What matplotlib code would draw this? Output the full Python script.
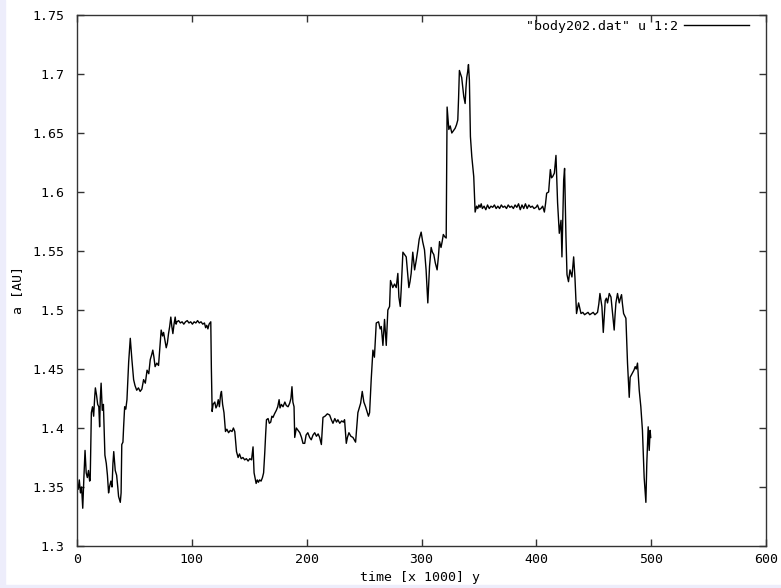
"""
Semi-major axis of body202 over time (gnuplot-style look)
"""

import matplotlib
matplotlib.use("Agg")
import matplotlib.pyplot as plt
from matplotlib.patches import Rectangle

#############################
####### Data #################################

# time in 1000 y, a in AU
phase_start = [(0, 1.352), (1, 1.348), (2, 1.356), (3, 1.345), (4, 1.350), (5, 1.332),
               (6, 1.358), (7, 1.381), (8, 1.362), (9, 1.358), (10, 1.364), (11, 1.355),
               (11.5, 1.356), (12.5, 1.413), (13.5, 1.418), (14.5, 1.410), (15.4, 1.426),
               (16, 1.434), (17, 1.428), (18, 1.420), (19, 1.418), (19.7, 1.401), (20.3, 1.425),
               (21, 1.438), (22, 1.415), (23, 1.420), (24.3, 1.377), (25.5, 1.370), (26.5, 1.360),
               (27.5, 1.345), (28.3, 1.350), (29.5, 1.355), (30.5, 1.350), (31.3, 1.370),
               (32, 1.380), (33.3, 1.364), (34.5, 1.360), (35.5, 1.350), (36.2, 1.342),
               (37.7, 1.337), (38.4, 1.345), (39, 1.386), (40, 1.388), (40.6, 1.401),
               (41.5, 1.418), (42.5, 1.416), (43.5, 1.424), (45, 1.456), (46.4, 1.476),
               (47.8, 1.458), (49.3, 1.441), (50.5, 1.436), (52, 1.432), (53.5, 1.434),
               (55, 1.431), (56.5, 1.433), (58, 1.441), (59.5, 1.438), (61, 1.449), (62.5, 1.446),
               (63.8, 1.458), (65, 1.462), (66, 1.466), (67, 1.460), (68, 1.452), (69.5, 1.455),
               (71, 1.453), (72.3, 1.470), (73.3, 1.483), (74.5, 1.478), (75.4, 1.481),
               (76.5, 1.475), (77.7, 1.468), (78.7, 1.472), (79.7, 1.480), (80.7, 1.486),
               (81.7, 1.494), (82.6, 1.486), (83.5, 1.480), (84.5, 1.488), (85.5, 1.494),
               (86.3, 1.488), (87, 1.490)]

phase_plateau1 = [(88.5, 1.491), (90, 1.489), (91.5, 1.490), (93, 1.488), (94.5, 1.490),
                  (96, 1.491), (97.5, 1.489), (99, 1.490), (100.5, 1.488), (102, 1.490),
                  (103.5, 1.489), (105, 1.491), (106.5, 1.489), (108, 1.490), (109.5, 1.488),
                  (111, 1.489), (112, 1.485), (113, 1.487), (114, 1.484), (115, 1.488),
                  (116.5, 1.490), (117, 1.451), (117.7, 1.414)]

phase_dip = [(118.5, 1.420), (120, 1.422), (121, 1.417), (122, 1.419), (123, 1.424),
             (124, 1.418), (125, 1.428), (125.8, 1.431), (126.8, 1.420), (128, 1.413),
             (129.3, 1.397), (130.5, 1.399), (132, 1.396), (133.5, 1.398), (135, 1.397),
             (136.2, 1.400), (137.4, 1.397), (138.9, 1.380), (140.3, 1.375), (141.5, 1.378),
             (143, 1.374), (144.5, 1.375), (146, 1.373), (147.5, 1.374), (149, 1.372),
             (150.5, 1.374), (152, 1.373), (153.3, 1.384), (154.2, 1.362), (155, 1.358),
             (156, 1.353), (157, 1.356), (158, 1.354), (159, 1.356), (160.3, 1.355),
             (161.5, 1.358), (162.5, 1.362), (163.5, 1.379), (164.3, 1.395), (165, 1.407),
             (166.4, 1.408), (167.5, 1.404), (168.7, 1.405), (169.7, 1.410), (170.7, 1.409),
             (172, 1.412), (173.6, 1.415), (174.8, 1.418), (176, 1.424), (176.8, 1.417),
             (178, 1.420), (179.4, 1.418), (181, 1.422), (182.3, 1.419), (183.8, 1.418),
             (185.2, 1.421), (186.3, 1.425), (187.2, 1.435), (188, 1.422), (189, 1.418),
             (189.6, 1.392), (191, 1.400), (192.5, 1.398), (194, 1.396), (195.5, 1.392),
             (196.8, 1.387), (198.3, 1.387), (199.5, 1.394), (201, 1.396), (202.6, 1.392),
             (204, 1.390), (205.5, 1.394), (207, 1.396), (208.5, 1.393), (210, 1.395),
             (211.3, 1.392), (212.8, 1.386), (214.2, 1.409), (216, 1.410), (218, 1.412),
             (220, 1.411), (221.5, 1.407), (222.9, 1.404), (224.5, 1.408), (226, 1.405),
             (227.2, 1.407), (228.8, 1.404), (230.5, 1.406), (232, 1.405), (233, 1.407),
             (234.5, 1.387), (235.5, 1.392), (236.8, 1.396), (238.5, 1.393), (240.3, 1.392),
             (241.5, 1.390), (242.6, 1.388)]

phase_rise = [(244.6, 1.413), (247, 1.421), (248.4, 1.431), (249.8, 1.422), (251.3, 1.418),
              (252.8, 1.413), (253.8, 1.410), (254.8, 1.413), (256.2, 1.441), (257.7, 1.466),
              (259, 1.460), (260.6, 1.489), (262.6, 1.490), (264, 1.484), (265, 1.486),
              (266.4, 1.470), (267.8, 1.492), (269.3, 1.470), (270.7, 1.500), (272.2, 1.503),
              (273, 1.525), (275, 1.519), (276.5, 1.522), (278, 1.519), (279.4, 1.531),
              (280.3, 1.511), (281.5, 1.503), (282.3, 1.517), (283.8, 1.549), (285.2, 1.547),
              (286.7, 1.545), (288, 1.530), (289, 1.519), (290, 1.524), (291, 1.531),
              (292.4, 1.549), (294, 1.534), (295.4, 1.542), (296.8, 1.551), (298, 1.560),
              (299.7, 1.566), (301, 1.558), (302.6, 1.551), (304, 1.534), (305.5, 1.506),
              (307, 1.537), (308.4, 1.553), (309.5, 1.549), (310.7, 1.547), (312, 1.540),
              (313.6, 1.534), (314.7, 1.545), (315.7, 1.558), (317, 1.553), (318, 1.558),
              (319, 1.564), (320.3, 1.562), (321.5, 1.561)]

phase_peak = [(322.3, 1.672), (323.2, 1.660), (323.8, 1.653), (325, 1.656), (326.4, 1.650),
              (327.8, 1.652), (329.3, 1.654), (330.5, 1.657), (331.6, 1.661), (332.3, 1.680),
              (333, 1.703), (334, 1.700), (335, 1.697), (336, 1.688), (336.8, 1.681),
              (338, 1.675), (338.7, 1.688), (339.4, 1.697), (340.2, 1.702), (340.9, 1.708),
              (341.7, 1.695), (342.6, 1.647), (343.8, 1.630), (345.5, 1.613), (346.7, 1.583)]

phase_plateau2 = [(348, 1.588), (349, 1.586), (350, 1.589), (351, 1.587), (352, 1.590),
                  (353, 1.586), (354.5, 1.588), (356, 1.585), (357.5, 1.589), (359, 1.586),
                  (360.5, 1.588), (362, 1.587), (363.5, 1.589), (365, 1.586), (366.5, 1.588),
                  (368, 1.586), (369.5, 1.589), (371, 1.587), (372.5, 1.588), (374, 1.586),
                  (375.5, 1.589), (377, 1.587), (378.5, 1.588), (380, 1.586), (381.5, 1.589),
                  (383, 1.587), (384.5, 1.590), (386, 1.585), (387.5, 1.589), (389, 1.586),
                  (390.5, 1.590), (392, 1.586), (393.5, 1.589), (395, 1.587), (396.5, 1.588),
                  (398, 1.586), (399.7, 1.587), (401, 1.589), (402.5, 1.585), (404, 1.586),
                  (405.5, 1.588), (407, 1.583), (408, 1.590)]

phase_decline = [(409, 1.599), (410.7, 1.600), (411.5, 1.610), (412.2, 1.619), (413.2, 1.612),
                 (414.2, 1.613), (415.7, 1.616), (417.1, 1.631), (418.5, 1.591), (420, 1.565),
                 (421.5, 1.576), (422.3, 1.545), (423.8, 1.610), (424.6, 1.620), (425.8, 1.562),
                 (426.7, 1.530), (428, 1.524), (429.3, 1.534), (431, 1.528), (432.5, 1.545),
                 (433.6, 1.528), (435, 1.497), (436.8, 1.506), (438.9, 1.497), (440.5, 1.498),
                 (442, 1.496), (443.5, 1.497), (445, 1.498), (446.5, 1.496), (448, 1.497),
                 (449.5, 1.498), (451, 1.496), (452.2, 1.497), (453.3, 1.498), (454.4, 1.505),
                 (455.4, 1.514), (456.3, 1.508), (457.1, 1.503), (458.3, 1.481), (459.2, 1.495),
                 (460, 1.508), (461, 1.510), (462, 1.506), (463.5, 1.514), (465, 1.511),
                 (466.4, 1.497), (467.8, 1.483), (468.5, 1.495), (469.3, 1.506), (470.7, 1.514),
                 (472.2, 1.506), (473.2, 1.510), (474.2, 1.513), (475, 1.505), (476, 1.497),
                 (477, 1.495), (478, 1.493), (479.4, 1.455), (480.9, 1.426), (481.7, 1.443),
                 (482.8, 1.445), (483.8, 1.447), (485, 1.449), (486.1, 1.452), (487, 1.450),
                 (488.1, 1.455), (489.6, 1.432), (491, 1.418), (492.4, 1.398), (493.9, 1.358),
                 (495.4, 1.337), (496.2, 1.370), (497.4, 1.401), (498.3, 1.381), (499.1, 1.398),
                 (499.6, 1.392)]

xticks = [0, 100, 200, 300, 400, 500, 600]
yticks = [1.3, 1.35, 1.4, 1.45, 1.5, 1.55, 1.6, 1.65, 1.7, 1.75]
ytick_labels = ["1.3", "1.35", "1.4", "1.45", "1.5", "1.55", "1.6", "1.65", "1.7", "1.75"]
legend_label = '"body202.dat" u 1:2'

##### end of data #####
#############################

points = (phase_start + phase_plateau1 + phase_dip + phase_rise + phase_peak
          + phase_plateau2 + phase_decline)
t = [p[0] for p in points]
a = [p[1] for p in points]

fs = 9.5
plt.rcParams['font.family'] = ['DejaVu Sans Mono']
plt.rcParams['font.size'] = fs

W, H = 781, 588
fig = plt.figure(figsize=(W / 100, H / 100), dpi=100, facecolor='white')

# lavender page strips (left and bottom)
fig.patches.append(Rectangle((0, 0), 5 / W, 1, transform=fig.transFigure,
                             color='#ededfb', zorder=0))
fig.patches.append(Rectangle((0, 0), 1, 3 / H, transform=fig.transFigure,
                             color='#ededfb', zorder=0))

ax = fig.add_axes([77 / W, 42 / H, 689 / W, 531 / H])
ax.plot(t, a, color='black', lw=1.0, label=legend_label)

ax.set_xlim(0, 600)
ax.set_ylim(1.3, 1.75)
ax.set_xticks(xticks)
ax.set_yticks(yticks)
ax.set_yticklabels(ytick_labels)

for s in ax.spines.values():
    s.set_color('#333333')
    s.set_linewidth(1.0)
ax.tick_params(direction='in', length=5, width=1, color='#333333',
               top=True, right=True, labelsize=fs)
ax.tick_params(axis='x', pad=5)
ax.tick_params(axis='y', pad=9)

# axis titles placed where the reference has them
fig.text(420 / W, 1 - 578 / H, "time [x 1000] y", ha='center', va='center')
fig.text(18 / W, 1 - 290 / H, "a [AU]", ha='center', va='center', rotation=90)

leg = ax.legend(loc='upper right', bbox_to_anchor=(0.975, 0.991), frameon=False,
                markerfirst=False, handlelength=4.9 * 9.5 / fs, handletextpad=0.5,
                borderpad=0, borderaxespad=0)
leg.get_lines()[0].set_linewidth(1.0)

fig.savefig("out.png", dpi=100, facecolor=fig.get_facecolor())
